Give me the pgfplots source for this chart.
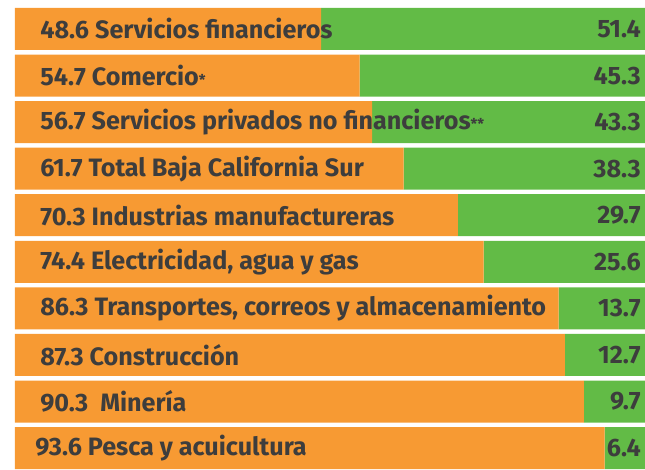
\documentclass[border=0pt]{standalone}
\usepackage{pgfplots}
\pgfplotsset{compat=1.18}
\usepackage{fontspec}
\setmainfont{Fira Sans}
\definecolor{orng}{HTML}{F79A33}
\definecolor{grn}{HTML}{62BB46}
\definecolor{txt}{HTML}{3D3D3D}
\newcommand\lf{\fontsize{15.1}{17}\selectfont\bfseries}
\tikzset{lbl/.style={text=txt, inner sep=0pt, font=\lf}}
\begin{document}
\begin{tikzpicture}
\begin{axis}[
  scale only axis, width=387pt, height=279.6pt,
  xmin=-2.38, xmax=100, ymin=0, ymax=466, y dir=reverse,
  axis lines=none, ticks=none, clip=false,
  xbar stacked, bar width=25.2pt,
]
\addplot[fill=orng, draw=none] coordinates {
(48.6,29) (54.7,75.6) (56.7,122.1) (61.7,168.7) (70.3,215.2)
(74.4,261.8) (86.3,308.4) (87.3,354.9) (90.3,401.5) (93.6,448)};
\addplot[fill=grn, draw=none] coordinates {
(51.4,29) (45.3,75.6) (43.3,122.1) (38.3,168.7) (29.7,215.2)
(25.6,261.8) (13.7,308.4) (12.7,354.9) (9.7,401.5) (6.4,448)};
\path (rel axis cs:0,0) rectangle (rel axis cs:1,1);
\coordinate (L1) at (axis cs:3.97,29);
\coordinate (L2) at (axis cs:3.97,75.6);
\coordinate (L3) at (axis cs:3.97,122.1);
\coordinate (L4) at (axis cs:3.97,168.7);
\coordinate (L5) at (axis cs:3.97,215.2);
\coordinate (L6) at (axis cs:3.97,261.8);
\coordinate (L7) at (axis cs:3.97,308.4);
\coordinate (L8) at (axis cs:3.97,354.9);
\coordinate (L9) at (axis cs:3.97,401.5);
\coordinate (L10) at (axis cs:3.17,448);
\coordinate (R1) at (axis cs:99.37,29);
\coordinate (R2) at (axis cs:99.37,75.6);
\coordinate (R3) at (axis cs:99.37,122.1);
\coordinate (R4) at (axis cs:99.37,168.7);
\coordinate (R5) at (axis cs:99.37,215.2);
\coordinate (R6) at (axis cs:99.37,261.8);
\coordinate (R7) at (axis cs:99.37,308.4);
\coordinate (R8) at (axis cs:99.37,354.9);
\coordinate (R9) at (axis cs:99.37,401.5);
\coordinate (R10) at (axis cs:99.37,448);
\end{axis}
\node[lbl, anchor=west] at (L1) {48.6 Servicios financieros};
\node[lbl, anchor=west] at (L2) {54.7 Comercio{\fontsize{9}{10}\selectfont*}};
\node[lbl, anchor=west] at (L3) {56.7 Servicios privados no financieros{\fontsize{9}{10}\selectfont**}};
\node[lbl, anchor=west] at (L4) {61.7 Total Baja California Sur};
\node[lbl, anchor=west] at (L5) {70.3 Industrias manufactureras};
\node[lbl, anchor=west] at (L6) {74.4 Electricidad, agua y gas};
\node[lbl, anchor=west] at (L7) {86.3 Transportes, correos y almacenamiento};
\node[lbl, anchor=west] at (L8) {87.3 Construcción};
\node[lbl, anchor=west] at (L9) {90.3\ \ Minería};
\node[lbl, anchor=west] at (L10) {93.6 Pesca y acuicultura};
\node[lbl, anchor=east] at (R1) {51.4};
\node[lbl, anchor=east] at (R2) {45.3};
\node[lbl, anchor=east] at (R3) {43.3};
\node[lbl, anchor=east] at (R4) {38.3};
\node[lbl, anchor=east] at (R5) {29.7};
\node[lbl, anchor=east] at (R6) {25.6};
\node[lbl, anchor=east] at (R7) {13.7};
\node[lbl, anchor=east] at (R8) {12.7};
\node[lbl, anchor=east] at (R9) {9.7};
\node[lbl, anchor=east] at (R10) {6.4};
\end{tikzpicture}
\end{document}
